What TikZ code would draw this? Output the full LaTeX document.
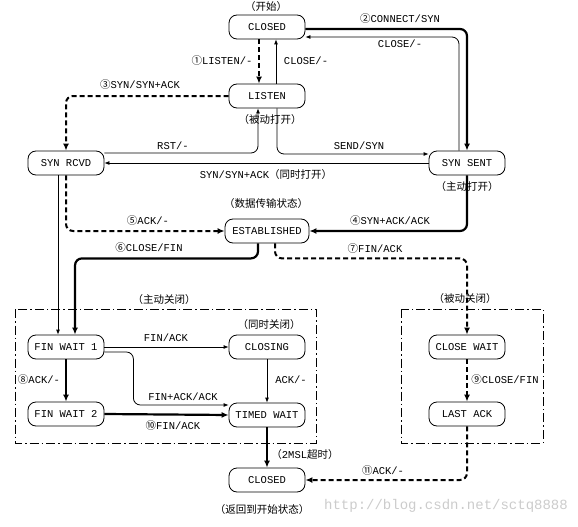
\documentclass[tikz,border=0pt]{standalone}
\usepackage{fontspec}
\usetikzlibrary{arrows.meta}
\newfontfamily\latfont{Liberation Mono}
\newfontfamily\cjkfont{Noto Sans CJK SC}
\newcommand\lf{\latfont\fontsize{10.5pt}{12pt}\selectfont}
\newcommand\zh[1]{{\cjkfont\fontsize{10.5pt}{12pt}\selectfont #1}}
\tikzset{
  stbox/.style={draw, rounded corners=8pt, minimum width=76pt, minimum height=24pt, inner sep=0pt, font=\lf, line width=0.8pt},
  thinln/.style={line width=0.8pt, rounded corners=7pt, -{Latex[length=5pt,width=4pt]}},
  thickln/.style={line width=2.2pt, rounded corners=7pt, -{Latex[length=7pt,width=6pt]}},
  dashln/.style={line width=2pt, rounded corners=7pt, dash pattern=on 5pt off 3pt, -{Latex[length=7pt,width=6pt]}},
  grp/.style={line width=0.8pt, dash pattern=on 9pt off 3pt on 1.5pt off 3pt},
  lbl/.style={font=\lf, inner sep=1pt},
}
\begin{document}
\begin{tikzpicture}[x=1pt,y=-1pt]
\useasboundingbox[fill=white] (0,0) rectangle (578,527);
% watermark
\node[anchor=east, text=black!20, font=\latfont\fontsize{14pt}{15pt}\selectfont, inner sep=0pt] (wm) at (568,506) {http://blog.csdn.net/sctq8888};
% groups
\draw[grp] (15,309) rectangle (316,443);
\draw[grp] (401,309) rectangle (543,443);
% states
\node[stbox] (c1) at (267,27) {CLOSED};
\node[stbox] (listen) at (267,96) {LISTEN};
\node[stbox] (rcvd) at (66,163) {SYN RCVD};
\node[stbox] (sent) at (467,163) {SYN SENT};
\node[stbox, minimum width=84pt] (est) at (267,231) {ESTABLISHED};
\node[stbox] (fw1) at (66,347) {FIN WAIT 1};
\node[stbox] (closing) at (267,347) {CLOSING};
\node[stbox] (fw2) at (66,414) {FIN WAIT 2};
\node[stbox] (timed) at (267,415) {TIMED WAIT};
\node[stbox] (cw) at (467,347) {CLOSE WAIT};
\node[stbox] (la) at (467,414) {LAST ACK};
\node[stbox] (c2) at (267,480) {CLOSED};
% annotations
\node[lbl] (a1) at (266,7) {\zh{（开始）}};
\node[lbl] (a2) at (270,120) {\zh{（被动打开）}};
\node[lbl] (a3) at (467,187) {\zh{（主动打开）}};
\node[lbl] (a4) at (266,204) {\zh{（数据传输状态）}};
\node[lbl] (a5) at (164,300) {\zh{（主动关闭）}};
\node[lbl] (a6) at (269,325) {\zh{（同时关闭）}};
\node[lbl] (a7) at (465,299) {\zh{（被动关闭）}};
\node[lbl] (a8) at (305,455) {\zh{（}2MSL\zh{超时）}};
\node[lbl] (a9) at (262,510) {\zh{（返回到开始状态）}};
% connectors
\draw[dashln] ([xshift=-8pt]c1.south) -- ([xshift=-8pt]listen.north);
\draw[thinln] ([xshift=9pt]listen.north) -- ([xshift=9pt]c1.south);
\draw[thickln] ([yshift=-2pt]c1.east) -| (sent.north);
\draw[thinln] ([xshift=-8pt]sent.north) |- ([yshift=-10pt]c1.east);
\draw[dashln] (listen.west) -| (rcvd.north);
\draw[thinln] ([yshift=10pt]rcvd.east) -| ([xshift=-9pt]listen.south);
\draw[thinln] ([xshift=10pt]listen.south) |- ([yshift=9pt]sent.west);
\draw[thinln] (sent.west) -- (rcvd.east);
\draw[dashln] (rcvd.south) |- (est.west);
\draw[thickln] (sent.south) |- (est.east);
\draw[thickln] ([xshift=-9pt]est.south) -- ++(0,15) -| ([xshift=9pt]fw1.north);
\draw[thinln] ([xshift=-8pt]rcvd.south) -- ([xshift=-8pt]fw1.north);
\draw[dashln] ([xshift=8pt]est.south) -- ++(0,15) -| (cw.north);
\draw[thinln] (fw1.east) -- (closing.west);
\draw[thinln] ([yshift=-5pt]fw1.east) -| ++(29,53) -- ([yshift=10pt]timed.west);
\draw[thickln] (fw1.south) -- (fw2.north);
\draw[thinln] (closing.south) -- (timed.north);
\draw[thickln] (fw2.east) -- (timed.west);
\draw[thickln] (timed.south) -- (c2.north);
\draw[dashln] (cw.south) -- (la.north);
\draw[dashln] (la.south) |- (c2.east);
% edge labels
\node[lbl] (l1) at (222,61) {\zh{①}LISTEN/-};
\node[lbl] (l2) at (306,61) {CLOSE/-};
\node[lbl] (l3) at (400,19) {\zh{②}CONNECT/SYN};
\node[lbl] (l4) at (400,44) {CLOSE/-};
\node[lbl] (l5) at (140,85) {\zh{③}SYN/SYN+ACK};
\node[lbl] (l6) at (173,146) {RST/-};
\node[lbl] (l7) at (359,146) {SEND/SYN};
\node[lbl] (l8) at (266,175) {SYN/SYN+ACK\zh{（同时打开）}};
\node[lbl] (l9) at (148,221) {\zh{⑤}ACK/-};
\node[lbl] (l10) at (390,221) {\zh{④}SYN+ACK/ACK};
\node[lbl] (l11) at (149,248) {\zh{⑥}CLOSE/FIN};
\node[lbl] (l12) at (375,249) {\zh{⑦}FIN/ACK};
\node[lbl] (l13) at (166,338) {FIN/ACK};
\node[lbl] (l14) at (39,380) {\zh{⑧}ACK/-};
\node[lbl] (l15) at (291,380) {ACK/-};
\node[lbl] (l16) at (183,397) {FIN+ACK/ACK};
\node[lbl] (l17) at (173,426) {\zh{⑩}FIN/ACK};
\node[lbl] (l18) at (505,380) {\zh{⑨}CLOSE/FIN};
\node[lbl] (l19) at (383,471) {\zh{⑪}ACK/-};
\end{tikzpicture}
\end{document}
